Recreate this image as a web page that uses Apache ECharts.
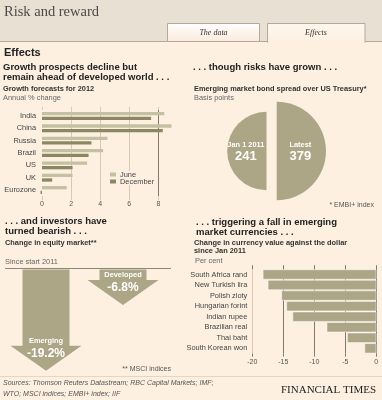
<!DOCTYPE html>
<html><head><meta charset="utf-8">
<script src="https://cdn.jsdelivr.net/npm/echarts@6/dist/echarts.min.js"></script>
<style>html,body{margin:0;padding:0;background:#fdf0e1}#c{width:382px;height:400px}</style>
</head><body><div id="c"></div>
<script>
// ---- data ----
const growthCategories = ['India', 'China', 'Russia', 'Brazil', 'US', 'UK', 'Eurozone'];
const growthJune = [8.4, 8.9, 4.5, 4.2, 3.1, 2.1, 1.7];
const growthDecember = [7.5, 8.3, 3.4, 3.2, 2.1, 0.7, -0.1];
const growthTicks = [0, 2, 4, 6, 8];

const spreadLabels = ['Jan 1 2011', 'Latest'];
const spreadValues = [241, 379];

const equityCategories = ['Emerging', 'Developed'];
const equityValues = [-19.2, -6.8];

const currencyCategories = ['South Africa rand', 'New Turkish lira', 'Polish zloty', 'Hungarian forint', 'Indian rupee', 'Brazilian real', 'Thai baht', 'South Korean won'];
const currencyValues = [-18.3, -17.5, -15.3, -14.5, -13.5, -8.0, -4.7, -1.9];
const currencyTicks = [-20, -15, -10, -5, 0];

// ---- styles ----
const SANS = '"Liberation Sans", Arial, sans-serif';
const SERIF = '"Liberation Serif", serif';
const CREAM = '#fdf0e1';
const OLIVE = '#aca686';
const JUNE = '#c4c0a2';
const DEC = '#8b8762';
const TAN = '#d8c9b2';
const DARK = '#7f796e';

function txt(text, x, y, font, fill, align, z) {
  return { type: 'text', z: z || 100, silent: true,
    style: { text: text, x: x, y: y, font: font, fill: fill || '#222',
      textAlign: align || 'left', align: align || 'left',
      textVerticalAlign: 'middle', verticalAlign: 'middle' } };
}
const H = 'bold 9.5px ' + SANS;
const S = 'bold 7.4px ' + SANS;
const N = '7.4px ' + SANS;

const chart = echarts.init(document.getElementById('c'), null, { renderer: 'canvas' });

const rMax = 49.3;
const spreadR = spreadValues.map(v => rMax * Math.sqrt(v / Math.max.apply(null, spreadValues)));
const pieRich = {
  a: { fontSize: 7.4, fontWeight: 'bold', color: '#fff', fontFamily: SANS, lineHeight: 11 },
  b: { fontSize: 13, fontWeight: 'bold', color: '#fff', fontFamily: SANS, lineHeight: 13 }
};

const option = {
  animation: false,
  backgroundColor: CREAM,
  graphic: [
    { type: 'rect', z: -10, silent: true, shape: { x: 0, y: 0, width: 382, height: 42 }, style: { fill: '#e9e0d4' } },
    { type: 'line', z: -9, silent: true, shape: { x1: 0, y1: 41.5, x2: 382, y2: 41.5 }, style: { stroke: '#b3a99c', lineWidth: 1 } },
    { type: 'rect', z: -8, silent: true, shape: { x: 167.5, y: 23.5, width: 92, height: 18 },
      style: { fill: new echarts.graphic.LinearGradient(0, 0, 0, 1, [{ offset: 0, color: '#ffffff' }, { offset: 1, color: '#fbeadb' }]), stroke: '#b3a99c', lineWidth: 1 } },
    { type: 'rect', z: -8, silent: true, shape: { x: 267.5, y: 23.5, width: 97.5, height: 19 },
      style: { fill: new echarts.graphic.LinearGradient(0, 0, 0, 1, [{ offset: 0, color: '#fff6ec' }, { offset: 1, color: CREAM }]), stroke: '#b3a99c', lineWidth: 1 } },
    { type: 'rect', z: -7, silent: true, shape: { x: 268, y: 41, width: 96.5, height: 3 }, style: { fill: CREAM } },
    txt('Risk and reward', 4, 12, '14.5px ' + SERIF, '#4a4a4a'),
    txt('The data', 213.5, 32.5, 'italic 8px ' + SERIF, '#333', 'center'),
    txt('Effects', 316, 32.5, 'italic 8px ' + SERIF, '#333', 'center'),
    txt('Effects', 4, 52.5, 'bold 11px ' + SANS, '#222'),
    // panel 1
    txt('Growth prospects decline but', 3, 67.5, H, '#222'),
    txt('remain ahead of developed world . . .', 3, 77, H, '#222'),
    txt('Growth forecasts for 2012', 3, 89, S, '#333'),
    txt('Annual % change', 3, 97.5, N, '#666'),
    // panel 2
    txt('. . . though risks have grown . . .', 193, 67.5, H, '#222'),
    txt('Emerging market bond spread over US Treasury*', 194, 89, S, '#333'),
    txt('Basis points', 194, 97.5, N, '#666'),
    txt('* EMBI+ index', 374, 205, '7px ' + SANS, '#555', 'right'),
    // panel 3
    txt('. . . and investors have', 5, 221.5, H, '#222'),
    txt('turned bearish . . .', 5, 231.5, H, '#222'),
    txt('Change in equity market**', 5, 242.5, S, '#333'),
    txt('Since start 2011', 5, 261.5, N, '#666'),
    { type: 'line', z: 5, silent: true, shape: { x1: 5, y1: 268.5, x2: 171, y2: 268.5 }, style: { stroke: '#8d877c', lineWidth: 1 } },
    txt('** MSCI indices', 171, 369, '7px ' + SANS, '#555', 'right'),
    // panel 4
    txt('. . . triggering a fall in emerging', 196, 222, H, '#222'),
    txt('market currencies . . .', 196, 232, H, '#222'),
    txt('Change in currency value against the dollar', 194, 242.5, S, '#333'),
    txt('since Jan 2011', 194, 251, S, '#333'),
    txt('Per cent', 195, 261, N, '#666'),
    // footer
    { type: 'line', z: -5, silent: true, shape: { x1: 0, y1: 376.5, x2: 382, y2: 376.5 }, style: { stroke: '#e6d6c0', lineWidth: 1 } },
    txt('Sources: Thomson Reuters Datastream; RBC Capital Markets; IMF;', 3, 383, 'italic 7px ' + SANS, '#555'),
    txt('WTO; MSCI indices; EMBI+ index; IIF', 3, 394, 'italic 7px ' + SANS, '#555'),
    txt('FINANCIAL TIMES', 376, 390.5, '11px ' + SERIF, '#222', 'right')
  ],
  legend: {
    data: ['June', 'December'], orient: 'vertical', left: 109, top: 171,
    itemWidth: 6, itemHeight: 4, itemGap: 0, icon: 'rect',
    textStyle: { fontSize: 7.4, color: '#444', fontFamily: SANS, padding: [0, 0, 0, -1] },
    selectedMode: false, backgroundColor: CREAM, padding: [0, 2, 0, 1]
  },
  grid: [
    { left: 42, top: 109.8, width: 116.4, height: 86.4 },
    { left: 252.3, top: 269.2, width: 124, height: 84.4 },
    { left: 7.5, top: 269, width: 154, height: 106 }
  ],
  xAxis: [
    { gridIndex: 0, type: 'value', min: growthTicks[0], max: growthTicks[growthTicks.length - 1], interval: 2,
      axisLine: { show: false }, axisTick: { show: true, length: 4, lineStyle: { color: TAN } },
      axisLabel: { fontSize: 7, color: '#555', fontFamily: SANS, margin: 4 },
      splitLine: { show: true, lineStyle: { color: ['rgba(0,0,0,0)', TAN, TAN, TAN, DARK], width: 1 } } },
    { gridIndex: 0, type: 'value', position: 'top', min: 0, max: 8, interval: 2,
      axisLine: { show: false }, axisTick: { show: true, length: 3, lineStyle: { color: TAN } },
      axisLabel: { show: false }, splitLine: { show: false } },
    { gridIndex: 1, type: 'value', min: currencyTicks[0], max: currencyTicks[currencyTicks.length - 1], interval: 5,
      axisLine: { show: false }, axisTick: { show: true, length: 3, lineStyle: { color: DARK } },
      axisLabel: { fontSize: 7, color: '#555', fontFamily: SANS, margin: 5 },
      splitLine: { show: true, lineStyle: { color: [TAN, DARK, DARK, DARK, DARK], width: 1 } } },
    { gridIndex: 1, type: 'value', position: 'top', min: -20, max: 0, interval: 5,
      axisLine: { show: false }, axisTick: { show: true, length: 4, lineStyle: { color: DARK } },
      axisLabel: { show: false }, splitLine: { show: false } },
    { gridIndex: 2, type: 'category', data: equityCategories, show: false }
  ],
  yAxis: [
    { gridIndex: 0, type: 'category', data: growthCategories, inverse: true,
      axisLine: { show: false }, axisTick: { show: false },
      axisLabel: { fontSize: 7.4, color: '#444', fontFamily: SANS, margin: 6 } },
    { gridIndex: 1, type: 'category', data: currencyCategories, inverse: true,
      axisLine: { show: false }, axisTick: { show: false },
      axisLabel: { fontSize: 7.4, color: '#444', fontFamily: SANS, margin: 5 } },
    { gridIndex: 2, type: 'value', min: -20, max: 0, show: false }
  ],
  series: [
    { name: 'June', type: 'bar', xAxisIndex: 0, yAxisIndex: 0, data: growthJune, barWidth: 3.3, barGap: '40%',
      itemStyle: { color: JUNE }, clip: false, silent: true },
    { name: 'December', type: 'bar', xAxisIndex: 0, yAxisIndex: 0, data: growthDecember, barWidth: 3.3, barGap: '40%',
      itemStyle: { color: DEC }, clip: false, silent: true },
    { name: 'Currency', type: 'bar', xAxisIndex: 2, yAxisIndex: 1, data: currencyValues, barWidth: 10,
      itemStyle: { color: OLIVE, borderColor: '#ffffff', borderWidth: 0.5 }, silent: true, z: 3 },
    { type: 'pie', center: [266.5, 151], radius: spreadR[0], startAngle: 90, clockwise: false, silent: true,
      labelLine: { show: false },
      data: [
        { name: spreadLabels[0], value: 1, itemStyle: { color: OLIVE },
          label: { show: true, position: 'inside', offset: [2, 0],
            formatter: '{a|' + spreadLabels[0] + '}\n{b|' + spreadValues[0] + '}', rich: pieRich } },
        { name: 'blank0', value: 1, itemStyle: { color: 'rgba(0,0,0,0)' }, label: { show: false } }
      ] },
    { type: 'pie', center: [276.7, 151], radius: spreadR[1], startAngle: 90, clockwise: true, silent: true,
      labelLine: { show: false },
      data: [
        { name: spreadLabels[1], value: 1, itemStyle: { color: OLIVE },
          label: { show: true, position: 'inside', offset: [-4, 0],
            formatter: '{a|' + spreadLabels[1] + '}\n{b|' + spreadValues[1] + '}', rich: pieRich } },
        { name: 'blank1', value: 1, itemStyle: { color: 'rgba(0,0,0,0)' }, label: { show: false } }
      ] },
    { type: 'custom', xAxisIndex: 4, yAxisIndex: 2, silent: true, z: 4,
      data: equityValues.map((v, i) => [i, v]),
      renderItem: function (params, api) {
        const i = api.value(0), v = api.value(1);
        const top = api.coord([i, 0]);
        const tip = api.coord([i, v]);
        const x = top[0], y0 = top[1] + 0.5, ty = tip[1];
        const headH = 25, sw = 23.5, hw = 35.5;
        const hy = ty - headH;
        return { type: 'group', children: [
          { type: 'polygon', shape: { points: [[x - sw, y0], [x + sw, y0], [x + sw, hy], [x + hw, hy], [x, ty], [x - hw, hy], [x - sw, hy]] },
            style: { fill: OLIVE } },
          { type: 'text', style: { text: equityCategories[i], x: x, y: ty - 30, fill: '#fff', font: 'bold 7.4px ' + SANS,
              textAlign: 'center', align: 'center', textVerticalAlign: 'middle', verticalAlign: 'middle' } },
          { type: 'text', style: { text: v.toFixed(1) + '%', x: x, y: ty - 17.5, fill: '#fff', font: 'bold 12px ' + SANS,
              textAlign: 'center', align: 'center', textVerticalAlign: 'middle', verticalAlign: 'middle' } }
        ] };
      } }
  ]
};
chart.setOption(option);
</script>
</body></html>
